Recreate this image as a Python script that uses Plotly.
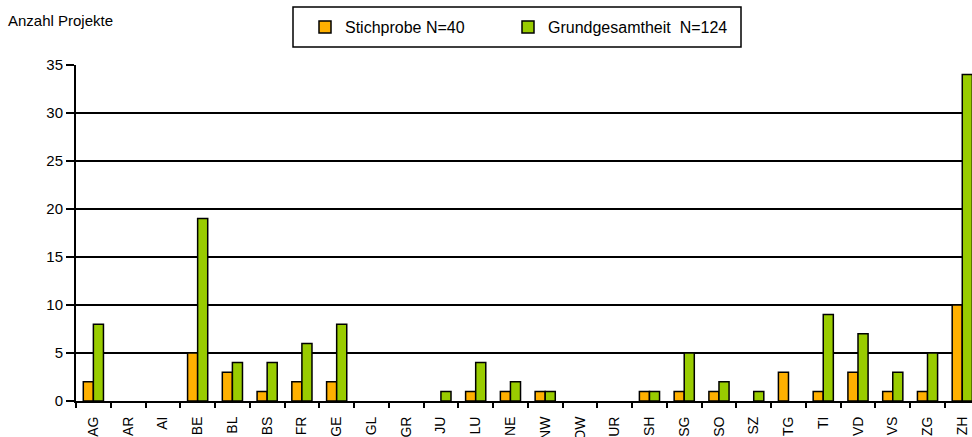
import plotly.graph_objects as go

categories = ["AG", "AR", "AI", "BE", "BL", "BS", "FR", "GE", "GL", "GR", "JU", "LU", "NE",
              "NW", "OW", "UR", "SH", "SG", "SO", "SZ", "TG", "TI", "VD", "VS", "ZG", "ZH"]
stichprobe = [2, 0, 0, 5, 3, 1, 2, 2, 0, 0, 0, 1, 1, 1, 0, 0, 1, 1, 1, 0, 3, 1, 3, 1, 1, 10]
grundgesamtheit = [8, 0, 0, 19, 4, 4, 6, 8, 0, 0, 1, 4, 2, 1, 0, 0, 1, 5, 2, 1, 0, 9, 7, 3, 5, 34]
y_ticks = [0, 5, 10, 15, 20, 25, 30, 35]

FONT = "Liberation Sans, Arial, sans-serif"


def outline(values):
    return [0 if v == 0 else 1.5 for v in values]


fig = go.Figure()
fig.add_trace(go.Bar(x=categories, y=stichprobe, name="Stichprobe N=40", legend="legend",
                     marker=dict(color="#FFB000", line=dict(color="black", width=outline(stichprobe)))))
fig.add_trace(go.Bar(x=categories, y=grundgesamtheit, name="Grundgesamtheit  N=124", legend="legend2",
                     marker=dict(color="#99CC00", line=dict(color="black", width=outline(grundgesamtheit)))))

leg_common = dict(orientation="h", xanchor="left", y=(401 - 27) / 336, yanchor="middle",
                  bgcolor="rgba(0,0,0,0)", borderwidth=0, font=dict(family=FONT, size=16))

fig.update_layout(
    width=972, height=437,
    margin=dict(l=76, r=0, t=65, b=36, autoexpand=False),
    paper_bgcolor="white", plot_bgcolor="white",
    font=dict(family=FONT, size=15, color="black"),
    barmode="group", bargap=0.42, bargroupgap=0,
    showlegend=True,
    legend=dict(x=(305 - 76) / 896, **leg_common),
    legend2=dict(x=(508 - 76) / 896, **leg_common),
    xaxis=dict(range=[-0.5, 25.28], showgrid=False, showline=True, linecolor="black", linewidth=2,
               ticks="outside", tickson="boundaries", ticklen=5, tickwidth=1.5, tickcolor="black",
               tickangle=-90, ticklabelstandoff=8, automargin=False,
               tickfont=dict(family=FONT, size=14)),
    yaxis=dict(range=[0, 35], tickvals=y_ticks, showgrid=True, gridcolor="black", gridwidth=1.5,
               showline=True, linecolor="black", linewidth=2, ticks="outside", ticklen=8,
               tickwidth=1.5, tickcolor="black", automargin=False, zeroline=False,
               tickfont=dict(family=FONT, size=15)),
    shapes=[dict(type="rect", xref="paper", yref="paper",
                 x0=(293 - 76) / 896, x1=(741 - 76) / 896,
                 y0=(401 - 47) / 336, y1=(401 - 7) / 336,
                 line=dict(color="black", width=1.5), fillcolor="rgba(0,0,0,0)", layer="above")],
    annotations=[dict(text="Anzahl Projekte", xref="paper", yref="paper",
                      x=(6 - 76) / 896, y=(401 - 20) / 336, xanchor="left", yanchor="middle",
                      showarrow=False, font=dict(family=FONT, size=15))],
)

fig.write_html("out.html", config={"displayModeBar": False},
               post_script="document.body.style.margin='0';document.body.style.padding='0';")
